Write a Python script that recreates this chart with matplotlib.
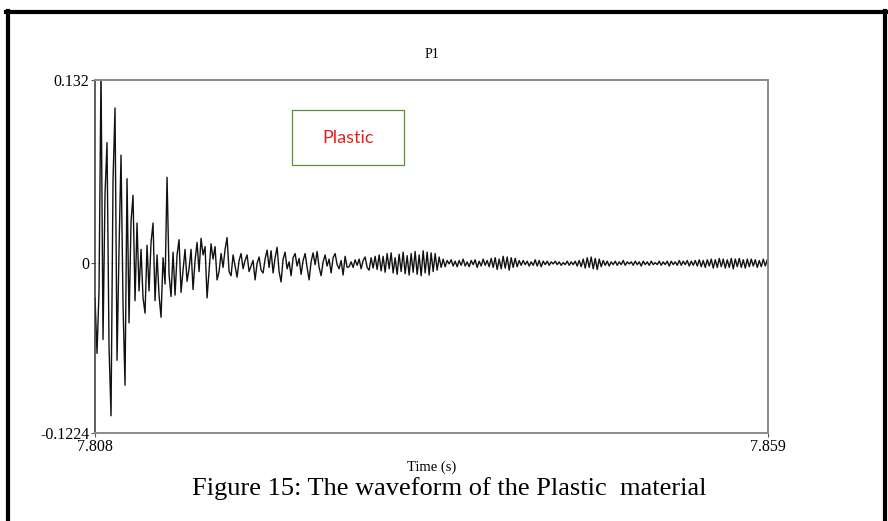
import numpy as np
import matplotlib
matplotlib.use('Agg')
import matplotlib.pyplot as plt
from matplotlib.lines import Line2D
from matplotlib.patches import Rectangle

# waveform P1, values in units of 1e-4, one sample every dt seconds
onset = [-250, -650, -200, 1400, -550, 500, 870, -600, -1100, 600,
         1120, -700, 100, 780, -300, -880, 610, -430, 300, 490,
         -270, 290, -200, 100, -250, -360, 130, -200, 150, 290,
         -270, 60, -230, -390, 40, -150, 620, -80]
early = [-240, 80, -230, 60, 170, -210, -50, 100, -130, -40,
         100, -190, 20, 150, -60, 180, 60, 120, -250, -60,
         140, 30, 120, -120, -60, 70, -30, 100, 185, -60,
         -90, 60, -20, -100, 20, 70, -40, 20, 60, -60,
         -20, 20, -120, 0, 45, -50, -70, 30, 95]
middle = [-30, 90, -70, 40, 115, -60, -135, 30, 80, -40,
          10, -90, 40, 70, -20, 35, -80, 20, 70, -30,
          -120, 10, 75, -10, 85, -30, -90, 10, 60, -20,
          30, -70, 40, 70, -10, -40, 20, -85, 50, -30,
          -25, 10, -30, 25, -15, 30, -40, 20, 45, -30,
          -50, 40, -35, 50, -45, 60, -55, 50, -65, 70,
          -40, 75, -70, 40, -80, 65, -60, 80, -75, 55,
          -85, 70, -65, 85, -80, 60, -90, 90, -70, 80,
          -85, 75, -60, 70, -50, 45, -30, 30, -25, 20,
          -5, 25, -20, 15, -25, 20, -15, 30, -20, 10,
          -25, 20, -10, 25, -30, 15, -20, 30, -15, 20,
          -25, 35, -30, 40]
tail = [-45, 30, -40, 50, -35, 45, -50, 40, -30, 35,
        -25, 20, -15, 20, -10, 15, -20, 10, -15, 25,
        -20, 20, -25, 15, -10, 15, -15, 10, -5, 15,
        -10, 10, -15, 5, -10, 15, -15, 10, -10, 15,
        -20, 20, -25, 30, -35, 40, -30, 45, -40, 35,
        -45, 30, -25, 20, -15, 15, -20, 10, -10, 15,
        -15, 10, -10, 20, -15, 10, -5, 10, -15, 15,
        -10, 10, -20, 15, -10, 10, -15, 15, -10, 5,
        -10, 15, -15, 10, -10, 15, -20, 15, -10, 10,
        -15, 20, -15, 15, -10, 20, -20, 15, -15, 20,
        -20, 25, -25, 20, -30, 25, -20, 30, -35, 25,
        -30, 35, -25, 30, -35, 25, -30, 35, -40, 30,
        -25, 35, -30, 25, -35, 30, -25, 30, -20, 25,
        -30, 20, -25, 30, -20, 25]

t_start = 7.808
t_end = 7.859
dt = 0.0001516
y_min = -0.1224
y_max = 0.132
ytick_labels = ['-0.1224', '0', '0.132']
xtick_labels = ['7.808', '7.859']

p1 = np.array(onset + early + middle + tail) * 1e-4
t = t_start + np.arange(len(p1)) * dt

plt.rcParams['font.family'] = ['Liberation Serif', 'DejaVu Serif']

fig = plt.figure(figsize=(8.88, 5.21), dpi=100)
ax = fig.add_axes([0.107, 0.169, 0.758, 0.677])

ax.axhline(0, color='#c8c8c8', lw=0.6, ls=':', zorder=1)
ax.plot(t, p1, color='#111111', lw=1.0, zorder=2)

ax.set_xlim(t_start, t_end)
ax.set_ylim(y_min, y_max)
ax.set_yticks([y_min, 0, y_max])
ax.set_yticklabels(ytick_labels)
ax.set_xticks([t_start, t_end])
ax.set_xticklabels(xtick_labels)
ax.tick_params(labelsize=11.5, length=3, width=0.8, color='#555555', pad=1)

for side in ['top', 'bottom', 'right']:
    ax.spines[side].set_color('#8a8a8a')
    ax.spines[side].set_linewidth(1.4)
ax.spines['left'].set_color('#333333')
ax.spines['left'].set_linewidth(1.1)

ax.set_title('P1', fontsize=10, pad=16)
ax.set_xlabel('Time (s)', fontsize=10.5, labelpad=4)

# label box
ax.add_patch(Rectangle((0.293, 0.759), 0.166, 0.156, transform=ax.transAxes,
                       fill=False, edgecolor='#5a8f3c', lw=0.9))
ax.text(0.376, 0.837, 'Plastic', transform=ax.transAxes, ha='center', va='center',
        color='#e3221c', fontsize=13, family=['Lato', 'DejaVu Sans'])

fig.text(0.506, 0.063, 'Figure 15: The waveform of the Plastic  material',
         ha='center', va='center', fontsize=19)

# black frame around the figure
fig.add_artist(Line2D([0.007, 1.0], [0.977, 0.977], transform=fig.transFigure,
                      color='black', lw=3))
fig.add_artist(Line2D([0.009, 0.009], [0.0, 0.979], transform=fig.transFigure,
                      color='black', lw=3))
fig.add_artist(Line2D([0.997, 0.997], [0.0, 0.979], transform=fig.transFigure,
                      color='black', lw=3))

fig.savefig('out.png', dpi=100)
